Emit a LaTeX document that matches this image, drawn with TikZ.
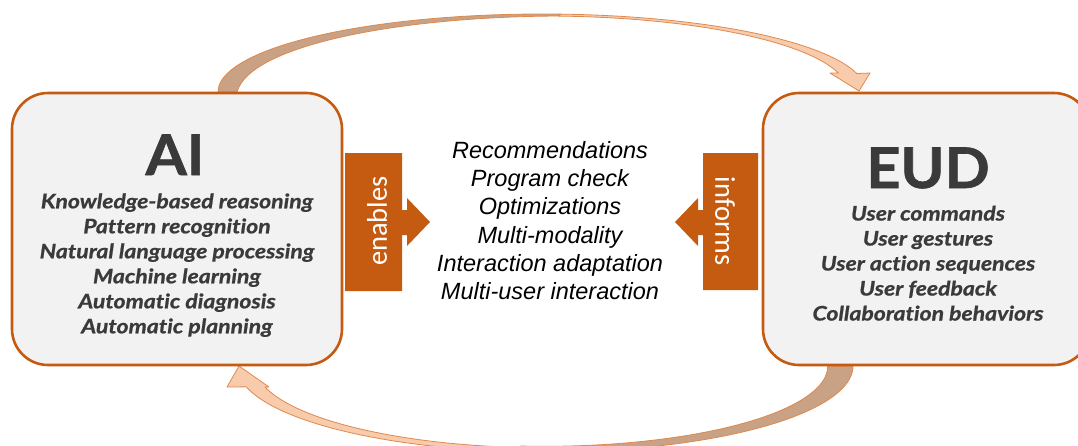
\documentclass[tikz,border=0pt]{standalone}
\usepackage{fontspec}
\setmainfont{Liberation Sans}
\newfontfamily\lato{Lato}
\newfontfamily\carl{Carlito}
\IfFontExistsTF{Lato Bold Italic}{%
  \newfontface\latotitle[FakeBold=1.2, FakeStretch=1.06]{Lato Bold}%
  \newfontface\latoitem[FakeBold=0.9, FakeStretch=1.15, Ligatures=NoCommon]{Lato Bold Italic}%
  \newcommand\titlesty{\latotitle\fontsize{56}{60}\selectfont}%
  \newcommand\itemsty{\latoitem\fontsize{20}{25}\selectfont}%
}{%
  \newcommand\titlesty{\lato\bfseries\fontsize{56}{60}\selectfont}%
  \newcommand\itemsty{\lato\bfseries\itshape\fontsize{23.5}{25}\selectfont}%
}
\definecolor{orng}{HTML}{C55A11}
\definecolor{boxfill}{HTML}{F2F2F2}
\definecolor{darkband}{HTML}{C9A185}
\definecolor{lightband}{HTML}{F8CBAD}
\definecolor{bandline}{HTML}{DE8A4E}
\definecolor{txt}{HTML}{3A3A3A}
\begin{document}
\begin{tikzpicture}[x=1pt,y=-1pt,
  panel/.style={draw=orng, line width=2.6pt, fill=boxfill, rounded corners=36pt, inner sep=0pt, outer sep=0pt},
  ribbondark/.style={fill=darkband, draw=bandline, line width=0.8pt, line join=round},
  ribbonlight/.style={fill=lightband, draw=bandline, line width=0.8pt, line join=round},
  callout/.style={fill=orng},
  title/.style={font=\titlesty, text=txt, anchor=base, inner sep=0pt},
  item/.style={font=\itemsty, text=txt, anchor=base, inner sep=0pt},
  mid/.style={font=\itshape\fontsize{23.5}{28}\selectfont, anchor=base, inner sep=0pt},
  verb/.style={font=\carl\fontsize{28.5}{30}\selectfont, text=white, inner sep=0pt}
]
\useasboundingbox (0,0) rectangle (1078,445);
\clip (0,0) rectangle (1078,445);

% top curved arrow (AI -> EUD)
\path[ribbonlight] (559,14.1) arc[start angle=87,end angle=13.7,x radius=324pt,y radius=78pt]
  -- (870,73) -- (859,91) -- (830,73) -- (838.4,73)
  arc[start angle=14.5,end angle=87.4,x radius=303pt,y radius=76pt] -- cycle;
\path[ribbondark] (218,92) arc[start angle=180,end angle=87,x radius=324pt,y radius=78pt]
  -- (560,16) .. controls (400,16.5) and (250,45) .. (237,92) -- cycle;

% bottom curved arrow (EUD -> AI)
\path[ribbonlight] (518.2,451.7) arc[start angle=-95,end angle=-166,x radius=308pt,y radius=86pt]
  -- (227,387) -- (239,366) -- (269,387) -- (265,387)
  arc[start angle=-165,end angle=-95,x radius=290pt,y radius=82pt] -- cycle;
\path[ribbondark] (853,366) arc[start angle=0,end angle=-95,x radius=308pt,y radius=86pt]
  -- (520,446) arc[start angle=-95,end angle=0,x radius=283pt,y radius=80pt] -- cycle;

% panels
\node[panel, minimum width=330pt, minimum height=272pt] (ai) at (177,229) {};
\node[panel, minimum width=327pt, minimum height=272pt] (eud) at (926.5,229) {};

% AI content
\node[title] (aititle) at (175,175) {AI};
\foreach \t [count=\i] in {Knowledge-based reasoning, Pattern recognition, Natural language processing, Machine learning, Automatic diagnosis, Automatic planning}
  \node[item] (ai\i) at (177,{208.3+25*(\i-1)}) {\t};

% EUD content
\node[title] (eudtitle) at (928,188) {EUD};
\foreach \t [count=\i] in {User commands, User gestures, User action sequences, User feedback, Collaboration behaviors}
  \node[item] (eud\i) at (928,{220.5+25*(\i-1)}) {\t};

% callout arrows
\path[callout] (345,153) -- (402,153) -- (402,210) -- (407,210) -- (407,198) -- (430,222)
  -- (407,246) -- (407,235) -- (402,235) -- (402,291) -- (345,291) -- cycle;
\node[verb, rotate=90] (enables) at (377,221) {enables};
\path[callout] (758,153) -- (703,153) -- (703,210) -- (698,210) -- (698,198) -- (675,222)
  -- (698,246) -- (698,235) -- (703,235) -- (703,290) -- (758,290) -- cycle;
\node[verb, rotate=-90] (informs) at (725,221) {informs};

% middle list
\foreach \t [count=\i] in {Recommendations, Program check, Optimizations, Multi-modality, Interaction adaptation, Multi-user interaction}
  \node[mid] (mid\i) at (550,{158.3+28.3*(\i-1)}) {\t};
\end{tikzpicture}
\end{document}
